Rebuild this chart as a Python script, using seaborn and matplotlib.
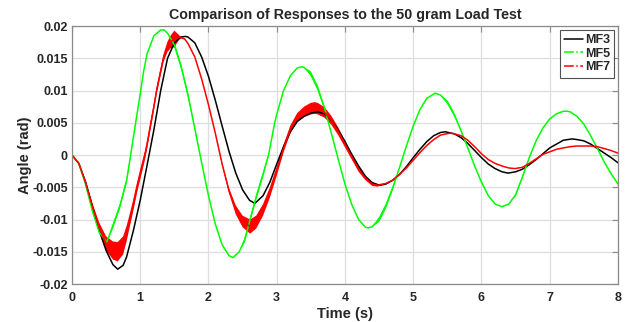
import pandas as pd
import matplotlib
matplotlib.use('Agg')
import matplotlib.pyplot as plt
import seaborn as sns
from matplotlib.lines import Line2D
from matplotlib.ticker import FuncFormatter

# readings: (time s, angle rad)
mf3 = [(0.00, 0.0000), (0.10, -0.0013), (0.20, -0.0042), (0.30, -0.0080), (0.40, -0.0117),
       (0.50, -0.0148), (0.60, -0.0170), (0.67, -0.0177), (0.75, -0.0171), (0.80, -0.0158),
       (0.90, -0.0117), (1.00, -0.0070), (1.10, -0.0016), (1.20, 0.0039), (1.30, 0.0100),
       (1.40, 0.0150), (1.50, 0.0174), (1.60, 0.0183), (1.66, 0.0184), (1.70, 0.0183),
       (1.80, 0.0174), (1.90, 0.0152), (2.00, 0.0122), (2.10, 0.0085), (2.20, 0.0045),
       (2.30, 0.0006), (2.40, -0.0028), (2.50, -0.0054), (2.60, -0.0070), (2.68, -0.0075),
       (2.80, -0.0063), (2.90, -0.0042), (3.00, -0.0014), (3.10, 0.0013), (3.20, 0.0036),
       (3.30, 0.0052), (3.40, 0.0060), (3.50, 0.0065), (3.60, 0.0067), (3.70, 0.0064),
       (3.80, 0.0054), (3.90, 0.0039), (4.00, 0.0021), (4.10, 0.0001), (4.20, -0.0017),
       (4.30, -0.0033), (4.40, -0.0043), (4.51, -0.0047), (4.60, -0.0045), (4.70, -0.0039),
       (4.80, -0.0030), (4.90, -0.0018), (5.00, -0.0004), (5.10, 0.0009), (5.20, 0.0021),
       (5.30, 0.0030), (5.40, 0.0035), (5.47, 0.0036), (5.60, 0.0033), (5.70, 0.0027),
       (5.80, 0.0018), (5.90, 0.0007), (6.00, -0.0004), (6.10, -0.0014), (6.20, -0.0021),
       (6.30, -0.0026), (6.39, -0.0028), (6.50, -0.0026), (6.60, -0.0022), (6.70, -0.0015),
       (6.80, -0.0007), (6.90, 0.0002), (7.00, 0.0011), (7.10, 0.0017), (7.20, 0.0023),
       (7.33, 0.0025), (7.40, 0.0024), (7.50, 0.0022), (7.60, 0.0017), (7.70, 0.0010),
       (7.80, 0.0003), (7.90, -0.0004), (8.00, -0.0012)]

# (time, angle, half width of the chatter band)
mf5 = [(0.00, 0.0000, 0), (0.10, -0.0012, 0), (0.20, -0.0046, 0), (0.30, -0.0087, 0),
       (0.40, -0.0120, 0), (0.51, -0.0135, 0), (0.60, -0.0110, .0004), (0.70, -0.0080, .0004),
       (0.80, -0.0040, .0004), (0.86, 0.0000, .0002), (0.90, 0.0028, 0), (1.00, 0.0095, 0),
       (1.05, 0.0130, 0), (1.10, 0.0157, 0), (1.20, 0.0185, 0), (1.30, 0.0194, 0),
       (1.35, 0.0194, 0), (1.40, 0.0189, 0), (1.50, 0.0171, .0004), (1.60, 0.0137, .0004),
       (1.70, 0.0093, .0004), (1.80, 0.0041, .0002), (1.90, -0.0012, 0), (2.00, -0.0063, 0),
       (2.10, -0.0107, 0), (2.20, -0.0139, 0), (2.30, -0.0156, 0), (2.36, -0.0159, 0),
       (2.45, -0.0150, 0), (2.53, -0.0132, .0004), (2.61, -0.0100, .0004), (2.70, -0.0065, .0004),
       (2.80, -0.0030, .0004), (2.88, 0.0000, .0002), (2.97, 0.0050, 0), (3.00, 0.0063, 0),
       (3.10, 0.0100, 0), (3.20, 0.0123, 0), (3.30, 0.0135, 0), (3.37, 0.0137, 0),
       (3.40, 0.0136, 0), (3.50, 0.0126, .0004), (3.60, 0.0104, .0004), (3.70, 0.0073, .0003),
       (3.80, 0.0034, 0), (3.90, -0.0006, 0), (4.00, -0.0045, 0), (4.10, -0.0077, 0),
       (4.20, -0.0100, 0), (4.30, -0.0112, 0), (4.34, -0.0113, 0), (4.40, -0.0111, 0),
       (4.50, -0.0100, .0004), (4.60, -0.0079, .0004), (4.70, -0.0051, .0003), (4.80, -0.0019, 0),
       (4.90, 0.0014, 0), (5.00, 0.0045, 0), (5.10, 0.0071, 0), (5.20, 0.0088, 0),
       (5.32, 0.0096, 0), (5.40, 0.0093, 0), (5.50, 0.0082, .0003), (5.60, 0.0063, .0003),
       (5.70, 0.0038, 0), (5.80, 0.0011, 0), (5.90, -0.0017, 0), (6.00, -0.0042, 0),
       (6.10, -0.0063, 0), (6.20, -0.0076, 0), (6.30, -0.0080, 0), (6.40, -0.0076, 0),
       (6.50, -0.0062, .0002), (6.60, -0.0034, .0002), (6.70, -0.0004, 0), (6.80, 0.0022, 0),
       (6.90, 0.0042, 0), (7.00, 0.0056, 0), (7.10, 0.0064, 0), (7.20, 0.0068, 0),
       (7.25, 0.0068, 0), (7.30, 0.0067, 0), (7.40, 0.0060, 0), (7.50, 0.0048, 0),
       (7.60, 0.0030, 0), (7.70, 0.0010, 0), (7.80, -0.0011, 0), (7.90, -0.0029, 0),
       (8.00, -0.0045, 0)]

mf7 = [(0.00, 0.0000, 0), (0.10, -0.0013, 0), (0.20, -0.0043, .0003), (0.30, -0.0080, .0005),
       (0.40, -0.0113, .0008), (0.50, -0.0137, .0011), (0.60, -0.0148, .0014), (0.67, -0.0150, .0015),
       (0.75, -0.0140, .0014), (0.80, -0.0122, .0012), (0.85, -0.0100, .0010), (0.90, -0.0077, .0009),
       (0.95, -0.0052, .0008), (1.00, -0.0030, .0008), (1.07, 0.0000, .0007), (1.10, 0.0016, .0007),
       (1.20, 0.0075, .0006), (1.24, 0.0100, .0006), (1.30, 0.0130, .0006), (1.34, 0.0150, .0006),
       (1.40, 0.0168, .0008), (1.45, 0.0176, .0010), (1.50, 0.0180, .0013), (1.58, 0.0183, .0002),
       (1.65, 0.0180, 0), (1.70, 0.0173, 0), (1.80, 0.0152, 0), (1.90, 0.0118, 0),
       (2.00, 0.0078, 0), (2.10, 0.0034, 0), (2.20, -0.0014, .0002), (2.30, -0.0055, .0004),
       (2.40, -0.0085, .0007), (2.50, -0.0103, .0009), (2.61, -0.0111, .0011), (2.70, -0.0104, .0010),
       (2.80, -0.0085, .0009), (2.90, -0.0058, .0008), (3.00, -0.0025, .0007), (3.10, 0.0010, .0006),
       (3.20, 0.0040, .0006), (3.30, 0.0058, .0007), (3.40, 0.0067, .0008), (3.50, 0.0072, .0009),
       (3.56, 0.0073, .0009), (3.60, 0.0072, .0009), (3.70, 0.0066, .0008), (3.80, 0.0054, .0007),
       (3.90, 0.0037, .0006), (4.00, 0.0017, .0005), (4.10, -0.0003, .0004), (4.20, -0.0022, .0004),
       (4.30, -0.0036, .0003), (4.40, -0.0045, .0003), (4.48, -0.0047, .0002), (4.60, -0.0044, 0),
       (4.70, -0.0039, 0), (4.80, -0.0030, 0), (4.90, -0.0020, 0), (5.00, -0.0008, 0),
       (5.10, 0.0004, 0), (5.20, 0.0015, 0), (5.30, 0.0024, 0), (5.40, 0.0031, 0),
       (5.54, 0.0034, 0), (5.60, 0.0033, 0), (5.70, 0.0030, 0), (5.80, 0.0023, 0),
       (5.90, 0.0013, 0), (6.00, 0.0002, 0), (6.10, -0.0007, 0), (6.20, -0.0013, 0),
       (6.30, -0.0017, 0), (6.40, -0.0020, 0), (6.49, -0.0021, 0), (6.60, -0.0019, 0),
       (6.70, -0.0013, 0), (6.80, -0.0006, 0), (6.90, 0.0001, 0), (7.00, 0.0005, 0),
       (7.10, 0.0009, 0), (7.20, 0.0011, 0), (7.30, 0.0013, 0), (7.40, 0.0014, 0),
       (7.50, 0.0014, 0), (7.60, 0.0014, 0), (7.70, 0.0013, 0), (7.80, 0.0010, 0),
       (7.90, 0.0007, 0), (8.00, 0.0003, 0)]

names = ['MF3', 'MF5', 'MF7']
colors = {'MF3': '#000000', 'MF5': '#00ff00', 'MF7': '#ff0000'}
styles = {'MF3': '-', 'MF5': '-.', 'MF7': '-.'}

d3 = pd.DataFrame(mf3, columns=['t', 'angle'])
d3['w'] = 0.0
d5 = pd.DataFrame(mf5, columns=['t', 'angle', 'w'])
d7 = pd.DataFrame(mf7, columns=['t', 'angle', 'w'])
frames = {'MF3': d3, 'MF5': d5, 'MF7': d7}

sns.set_style('whitegrid')
plt.rcParams['font.family'] = ['Liberation Sans', 'DejaVu Sans']
plt.rcParams['font.weight'] = 'bold'

fig = plt.figure(figsize=(6.27, 3.22), dpi=100)
ax = fig.add_axes([0.1148, 0.118, 0.8708, 0.801])

for name in names:
    d = frames[name]
    sns.lineplot(data=d, x='t', y='angle', color=colors[name], lw=1.1,
                 estimator=None, sort=False, ax=ax)
    band = d['w'] > 0
    if band.any():
        ax.fill_between(d['t'], d['angle'] - d['w'], d['angle'] + d['w'],
                        where=band, color=colors[name], lw=0, interpolate=True)

ax.set_xlim(0, 8)
ax.set_ylim(-0.02, 0.02)
ax.set_xticks(range(0, 9))
ax.set_yticks([-0.02, -0.015, -0.01, -0.005, 0, 0.005, 0.01, 0.015, 0.02])
ax.yaxis.set_major_formatter(FuncFormatter(lambda v, p: '%g' % round(v, 4)))
ax.grid(True, color='#dedede', lw=0.9)
for s in ax.spines.values():
    s.set_color('#8a8a8a')
    s.set_linewidth(0.9)
ax.tick_params(direction='in', length=4, width=0.8, color='#8a8a8a', labelsize=9,
               top=True, right=True, labelcolor='#262626')
ax.tick_params(axis='x', pad=6)
ax.tick_params(axis='y', pad=3)

ax.set_title('Comparison of Responses to the 50 gram Load Test', fontsize=10.3,
             fontweight='bold', pad=5)
ax.set_xlabel('Time (s)', fontsize=10.5, fontweight='bold', labelpad=2)
ax.set_ylabel('Angle (rad)', fontsize=10.5, fontweight='bold', labelpad=0)

handles = [Line2D([0], [0], color=colors[n], ls=styles[n], lw=1.1) for n in names]
leg = ax.legend(handles, names, loc='upper right', fontsize=9, frameon=True,
                fancybox=False, handlelength=1.5, handletextpad=0.15,
                borderpad=0.35, labelspacing=0.12, borderaxespad=0.3)
leg.get_frame().set_edgecolor('#262626')
leg.get_frame().set_linewidth(0.8)
for txt in leg.get_texts():
    txt.set_fontweight('bold')

fig.savefig('out.png', dpi=100)
